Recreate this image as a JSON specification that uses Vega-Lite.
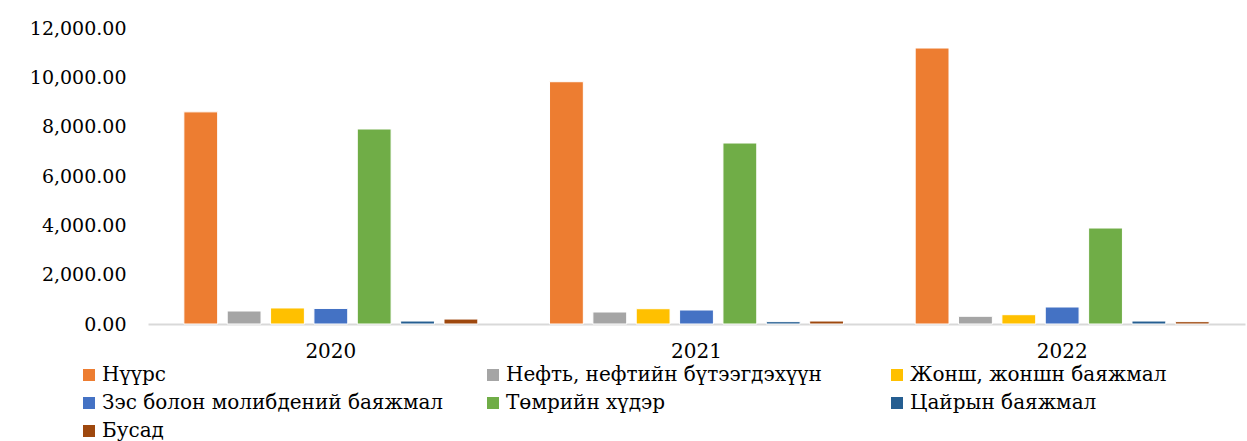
{
  "$schema": "https://vega.github.io/schema/vega-lite/v6.json",
  "width": 1097,
  "height": 296,
  "autosize": {"type": "none"},
  "padding": {"left": 148, "top": 28, "right": 2, "bottom": 117},
  "background": "white",
  "config": {
    "font": "DejaVu Serif",
    "view": {"stroke": null},
    "axis": {"labelFont": "DejaVu Serif", "labelColor": "#000000"},
    "legend": {"labelFont": "DejaVu Serif", "labelColor": "#000000"}
  },
  "data": {
    "values": [
      {"year": "2020", "cat": "Нүүрс", "value": 8600},
      {"year": "2020", "cat": "Нефть, нефтийн бүтээгдэхүүн", "value": 527},
      {"year": "2020", "cat": "Жонш, жоншн баяжмал", "value": 650},
      {"year": "2020", "cat": "Зэс болон молибдений баяжмал", "value": 630},
      {"year": "2020", "cat": "Төмрийн хүдэр", "value": 7905},
      {"year": "2020", "cat": "Цайрын баяжмал", "value": 120},
      {"year": "2020", "cat": "Бусад", "value": 200},
      {"year": "2021", "cat": "Нүүрс", "value": 9822},
      {"year": "2021", "cat": "Нефть, нефтийн бүтээгдэхүүн", "value": 486},
      {"year": "2021", "cat": "Жонш, жоншн баяжмал", "value": 620},
      {"year": "2021", "cat": "Зэс болон молибдений баяжмал", "value": 567},
      {"year": "2021", "cat": "Төмрийн хүдэр", "value": 7337},
      {"year": "2021", "cat": "Цайрын баяжмал", "value": 95},
      {"year": "2021", "cat": "Бусад", "value": 120},
      {"year": "2022", "cat": "Нүүрс", "value": 11188},
      {"year": "2022", "cat": "Нефть, нефтийн бүтээгдэхүүн", "value": 312},
      {"year": "2022", "cat": "Жонш, жоншн баяжмал", "value": 377},
      {"year": "2022", "cat": "Зэс болон молибдений баяжмал", "value": 689},
      {"year": "2022", "cat": "Төмрийн хүдэр", "value": 3891},
      {"year": "2022", "cat": "Цайрын баяжмал", "value": 120},
      {"year": "2022", "cat": "Бусад", "value": 95}
    ]
  },
  "mark": {"type": "bar", "stroke": "white", "strokeWidth": 1},
  "encoding": {
    "x": {
      "field": "year",
      "type": "nominal",
      "title": null,
      "scale": {"paddingInner": 0.17, "paddingOuter": 0.085},
      "axis": {
        "labelAngle": 0,
        "labelFontSize": 20,
        "labelPadding": 17,
        "ticks": false,
        "domainColor": "#d9d9d9",
        "domainWidth": 2,
        "grid": false
      }
    },
    "xOffset": {
      "field": "cat",
      "type": "nominal",
      "sort": ["Нүүрс", "Нефть, нефтийн бүтээгдэхүүн", "Жонш, жоншн баяжмал", "Зэс болон молибдений баяжмал", "Төмрийн хүдэр", "Цайрын баяжмал", "Бусад"],
      "scale": {"paddingInner": 0.22, "paddingOuter": 0.11}
    },
    "y": {
      "field": "value",
      "type": "quantitative",
      "title": null,
      "scale": {"domain": [0, 12000], "nice": false},
      "axis": {
        "values": [0, 2000, 4000, 6000, 8000, 10000, 12000],
        "format": ",.2f",
        "labelFontSize": 19,
        "labelPadding": 22,
        "ticks": false,
        "domain": false,
        "grid": false
      }
    },
    "color": {
      "field": "cat",
      "type": "nominal",
      "sort": ["Нүүрс", "Нефть, нефтийн бүтээгдэхүүн", "Жонш, жоншн баяжмал", "Зэс болон молибдений баяжмал", "Төмрийн хүдэр", "Цайрын баяжмал", "Бусад"],
      "scale": {
        "domain": ["Нүүрс", "Нефть, нефтийн бүтээгдэхүүн", "Жонш, жоншн баяжмал", "Зэс болон молибдений баяжмал", "Төмрийн хүдэр", "Цайрын баяжмал", "Бусад"],
        "range": ["#ED7D31", "#A5A5A5", "#FFC000", "#4472C4", "#70AD47", "#255E91", "#9E480E"]
      },
      "legend": {
        "title": null,
        "orient": "none",
        "legendX": -69,
        "legendY": 337,
        "direction": "horizontal",
        "columns": 3,
        "gridAlign": "all",
        "symbolType": "square",
        "symbolSize": 144,
        "symbolStrokeWidth": 0,
        "labelFontSize": 20,
        "labelOffset": 3,
        "labelLimit": 400,
        "rowPadding": 8,
        "columnPadding": 39
      }
    }
  }
}
